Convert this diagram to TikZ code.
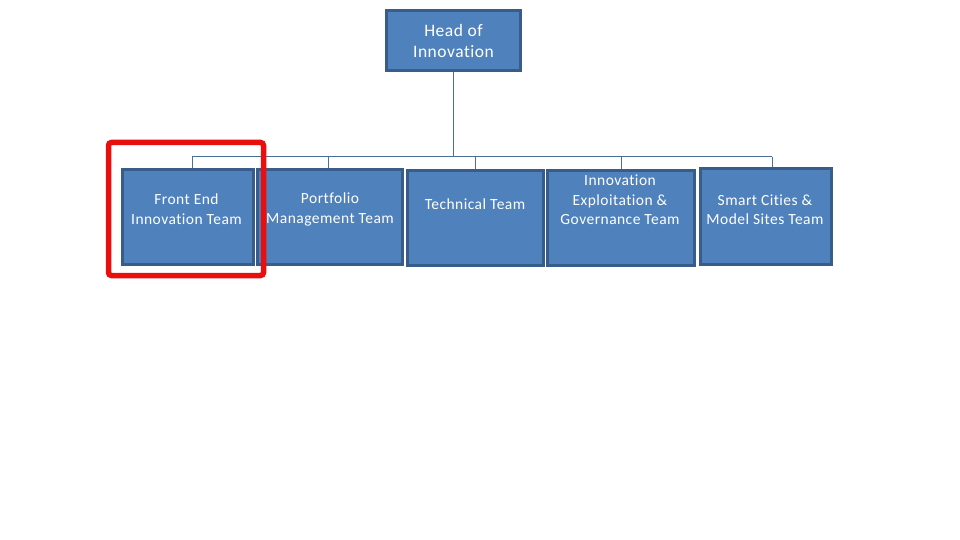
\documentclass[tikz,border=0pt]{standalone}
\usepackage{fontspec}
\setmainfont{Carlito}[Ligatures=NoCommon,LetterSpace=3]
\definecolor{boxfill}{HTML}{4F81BD}
\definecolor{boxline}{HTML}{385D8A}
\definecolor{conn}{HTML}{4A7098}
\definecolor{hilite}{HTML}{E8100F}
\begin{document}
\begin{tikzpicture}[x=1pt,y=-1pt,
  teambox/.style={draw=boxline,fill=boxfill,line width=3pt,inner sep=0pt,rectangle},
  teamtext/.style={text=white,align=center,font=\fontsize{15.5}{19.5}\selectfont,inner sep=0pt},
  headtext/.style={text=white,align=center,font=\fontsize{17.5}{21}\selectfont,inner sep=0pt},
  link/.style={draw=conn,line width=1pt}]
\useasboundingbox[fill=white] (0,0) rectangle (960,540);
% boxes
\node[teambox,minimum width=134pt,minimum height=60pt] (head) at (453.5,40.5) {};
\node[teambox,minimum width=131pt,minimum height=95pt] (fe) at (188,217) {};
\node[teambox,minimum width=145pt,minimum height=95pt] (pf) at (330,217) {};
\node[teambox,minimum width=136pt,minimum height=95pt] (tt) at (475.5,218) {};
\node[teambox,minimum width=147pt,minimum height=95pt] (ie) at (621,218) {};
\node[teambox,minimum width=131pt,minimum height=96pt] (sc) at (766,216.5) {};
% texts
\node[headtext] (headt) at (453.5,40.5) {Head of\\Innovation};
\node[teamtext] (fet) at (186.5,209) {Front End\\Innovation Team};
\node[teamtext] (pft) at (330,209.5) {Portfolio\\Management Team};
\node[teamtext] (ttt) at (475,204) {Technical Team};
\node[teamtext] (iet) at (620,200) {Innovation\\Exploitation \&\\Governance Team};
\node[teamtext] (sct) at (765,209.5) {Smart Cities \&\\Model Sites Team};
% connectors
\coordinate (hb) at (453,157);
\coordinate (d1) at (192,157);
\coordinate (d2) at (328,157);
\coordinate (d3) at (475,157);
\coordinate (d4) at (621,157);
\coordinate (d5) at (772,157);
\draw[link] (head.south -| hb) -- (hb);
\draw[link] (d1) -- (d5);
\draw[link] (d1) -- (d1 |- fe.north);
\draw[link] (d2) -- (d2 |- pf.north);
\draw[link] (d3) -- (d3 |- tt.north);
\draw[link] (d4) -- (d4 |- ie.north);
\draw[link] (d5) -- (d5 |- sc.north);
% highlight
\node[draw=hilite,line width=5.5pt,rounded corners=3pt,minimum width=155pt,minimum height=133pt,inner sep=0pt] (mark) at (186,209) {};
\end{tikzpicture}
\end{document}
